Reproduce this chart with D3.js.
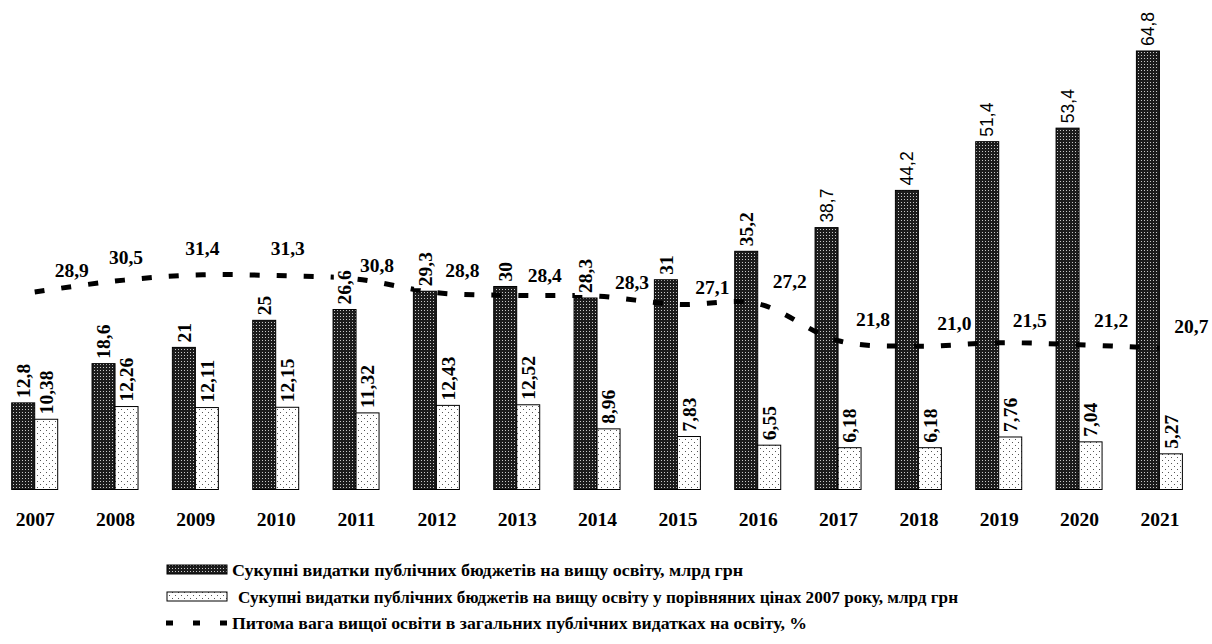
<!DOCTYPE html>
<html>
<head>
<meta charset="utf-8">
<script src="https://cdn.jsdelivr.net/npm/d3@7"></script>
<style>
  html, body { margin: 0; padding: 0; background: #fff; }
  svg { display: block; }
</style>
</head>
<body>
<svg id="chart" width="1212" height="644"></svg>
<script>
// Years on the category axis
const years = ['2007','2008','2009','2010','2011','2012','2013','2014','2015','2016','2017','2018','2019','2020','2021'];
// Total public budget spending on higher education, bn UAH
const totalSpend = [12.8, 18.6, 21, 25, 26.6, 29.3, 30, 28.3, 31, 35.2, 38.7, 44.2, 51.4, 53.4, 64.8];
// Same spending in comparable 2007 prices, bn UAH
const realSpend = [10.38, 12.26, 12.11, 12.15, 11.32, 12.43, 12.52, 8.96, 7.83, 6.55, 6.18, 6.18, 7.76, 7.04, 5.27];
// Share of higher education in total public education spending, %
const shareHigher = [28.9, 30.5, 31.4, 31.3, 30.8, 28.8, 28.4, 28.3, 27.1, 27.2, 21.8, 21.0, 21.5, 21.2, 20.7];

const legendLabels = [
  'Сукупні видатки публічних бюджетів на вищу освіту, млрд грн',
  'Сукупні видатки публічних бюджетів на вищу освіту у порівняних цінах 2007 року, млрд грн',
  'Питома вага вищої освіти в загальних публічних видатках на освіту, %'
];

// Layout: offsets of the percentage labels from their points
const shareLabelShift = [[37,-22],[11,-24],[7,-27],[12,-27],[21,-14],[26,-23],[28,-20],[35,-14],[35,-17],[32,-23],[35,-21],[36,-23],[31,-23],[32,-25],[32,-22]];
// Years whose total-spending labels are set in a plain sans face
const sansLabelYears = ['2017','2018','2019','2020','2021'];

const svg = d3.select('#chart');
const SERIF = '"Liberation Serif", "Times New Roman", serif';
const SANS = '"Liberation Sans", Arial, sans-serif';
const fmt = v => String(v).replace('.', ',');
const fmt1 = v => v.toFixed(1).replace('.', ',');

// Fill patterns
const defs = svg.append('defs');
const pd = defs.append('pattern').attr('id', 'darkFill')
  .attr('patternUnits', 'userSpaceOnUse').attr('width', 3).attr('height', 3);
pd.append('rect').attr('width', 3).attr('height', 3).attr('fill', '#1c1c1c');
pd.append('rect').attr('x', 1).attr('y', 1).attr('width', 1).attr('height', 1).attr('fill', '#c8c8c8');

const pl = defs.append('pattern').attr('id', 'lightFill')
  .attr('patternUnits', 'userSpaceOnUse').attr('width', 6).attr('height', 6);
pl.append('rect').attr('width', 6).attr('height', 6).attr('fill', '#fff');
pl.append('rect').attr('x', 1).attr('y', 1).attr('width', 1).attr('height', 1).attr('fill', '#555');
pl.append('rect').attr('x', 4).attr('y', 4).attr('width', 1).attr('height', 1).attr('fill', '#555');

// Scales
const x = d3.scalePoint().domain(years).range([34.7, 1159.4]);
const barW = 23;
const y = d3.scaleLinear().domain([0, 70]).range([489.5, 489.5 - 70 * 6.767]);
const y2 = d3.scaleLinear().domain([0, 70]).range([490, 490 - 70 * 6.85]);

const rows = years.map((yr, i) => ({ yr, i, total: totalSpend[i], real: realSpend[i], share: shareHigher[i] }));

// Bars
const g = svg.append('g');
g.selectAll('rect.total').data(rows).join('rect')
  .attr('class', 'total')
  .attr('x', d => x(d.yr) - barW).attr('y', d => y(d.total))
  .attr('width', barW).attr('height', d => y(0) - y(d.total))
  .attr('fill', 'url(#darkFill)').attr('stroke', '#000').attr('stroke-width', 1);

g.selectAll('rect.real').data(rows).join('rect')
  .attr('class', 'real')
  .attr('x', d => x(d.yr)).attr('y', d => y(d.real))
  .attr('width', barW).attr('height', d => y(0) - y(d.real))
  .attr('fill', 'url(#lightFill)').attr('stroke', '#000').attr('stroke-width', 1);

// Share line
const line = d3.line()
  .x(d => x(d.yr)).y(d => y2(d.share))
  .curve(d3.curveCatmullRom.alpha(0.5));
svg.append('path').datum(rows)
  .attr('d', line).attr('fill', 'none')
  .attr('stroke', '#000').attr('stroke-width', 5)
  .attr('stroke-dasharray', '10 17');

// Rotated value labels on bars; the total labels sit on a white box
function barLabel(sel, cx, top, text, family, weight, size, boxed) {
  const grp = sel.append('g');
  const t = grp.append('text')
    .attr('transform', `translate(${cx + size * 0.35},${top - 5}) rotate(-90)`)
    .attr('text-anchor', 'start')
    .attr('font-family', family).attr('font-weight', weight)
    .attr('font-size', size).attr('fill', '#000')
    .text(text);
  if (boxed) {
    const len = t.node().getComputedTextLength();
    grp.insert('rect', 'text')
      .attr('x', cx - size * 0.5 - 1).attr('y', top - 5 - len - 2)
      .attr('width', size + 2).attr('height', len + 4)
      .attr('fill', '#fff');
  }
}
const labels = svg.append('g');
rows.forEach(d => {
  const sans = sansLabelYears.includes(d.yr);
  barLabel(labels, x(d.yr) - barW / 2, y(d.total), fmt(d.total),
    sans ? SANS : SERIF, sans ? 'normal' : 'bold', sans ? 17.5 : 19.5, true);
});
rows.forEach(d => {
  barLabel(labels, x(d.yr) + barW / 2, y(d.real), fmt(d.real), SERIF, 'bold', 19.5, false);
});

// Percentage labels
labels.selectAll('text.share').data(rows).join('text')
  .attr('class', 'share')
  .attr('x', d => x(d.yr) + shareLabelShift[d.i][0])
  .attr('y', d => y2(d.share) + shareLabelShift[d.i][1])
  .attr('dy', '0.35em')
  .attr('text-anchor', 'middle')
  .attr('font-family', SERIF).attr('font-weight', 'bold').attr('font-size', 19.5)
  .text(d => fmt1(d.share));

// Year axis labels
const xAxis = d3.axisBottom(x).tickSize(0).tickPadding(0);
const ax = svg.append('g').attr('transform', 'translate(0,512)').call(xAxis);
ax.select('.domain').remove();
ax.selectAll('text')
  .attr('font-family', SERIF).attr('font-weight', 'bold').attr('font-size', 19.5)
  .attr('fill', '#000');

// Legend
const legend = svg.append('g');
const legendY = [570, 597, 623];
const legendTextX = [232, 238, 232];
const legendTextEnd = [743, 958, 807];
legend.append('rect').attr('x', 167).attr('y', legendY[0] - 5).attr('width', 60).attr('height', 9)
  .attr('fill', 'url(#darkFill)').attr('stroke', '#000').attr('stroke-width', 1);
legend.append('rect').attr('x', 167).attr('y', legendY[1] - 5).attr('width', 60).attr('height', 9)
  .attr('fill', 'url(#lightFill)').attr('stroke', '#000').attr('stroke-width', 1);
legend.append('line').attr('x1', 166).attr('x2', 229)
  .attr('y1', legendY[2]).attr('y2', legendY[2])
  .attr('stroke', '#000').attr('stroke-width', 5).attr('stroke-dasharray', '7 20');
legend.selectAll('text').data(legendLabels).join('text')
  .attr('x', (d, i) => legendTextX[i])
  .attr('y', (d, i) => legendY[i])
  .attr('dy', '0.35em')
  .attr('font-family', SERIF).attr('font-weight', 'bold').attr('font-size', 17)
  .attr('textLength', (d, i) => legendTextEnd[i] - legendTextX[i])
  .attr('lengthAdjust', 'spacingAndGlyphs')
  .attr('fill', '#000')
  .text(d => d);
</script>
</body>
</html>
